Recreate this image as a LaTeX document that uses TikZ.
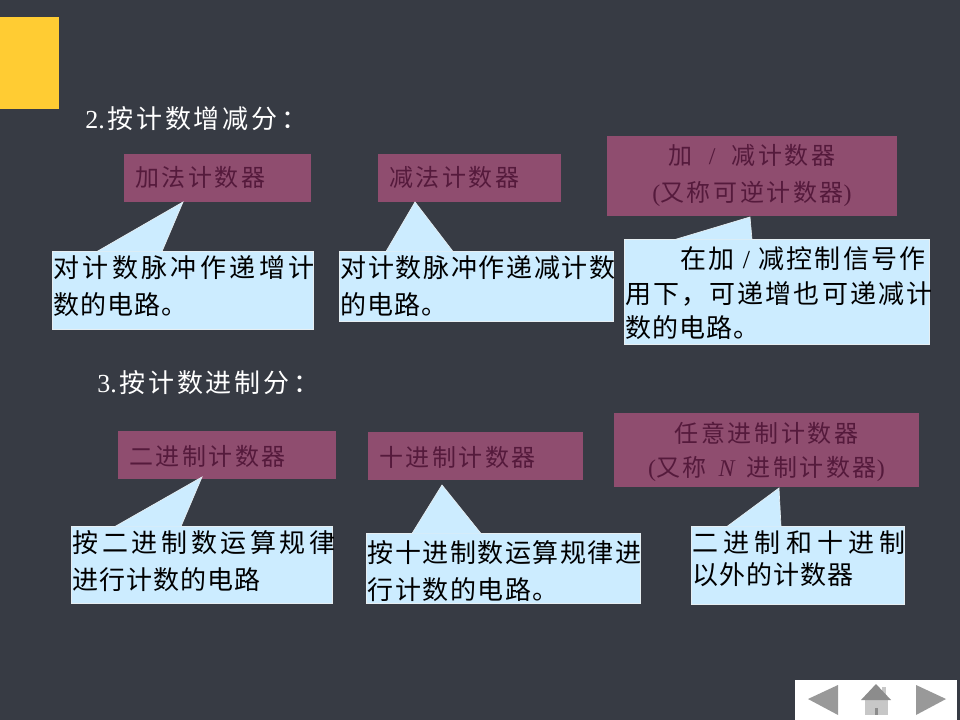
\documentclass[tikz,border=0pt]{standalone}
\usepackage{fontspec}
\setmainfont{Noto Sans CJK SC}
\newfontfamily\lat{Liberation Serif}
\definecolor{bg}{HTML}{373B44}
\definecolor{sun}{HTML}{FFCC33}
\definecolor{plum}{HTML}{8F4D6F}
\definecolor{plumtext}{HTML}{551A3C}
\definecolor{sky}{HTML}{CCECFF}
\definecolor{edge}{HTML}{E6EEF2}
\newcommand{\ls}[2]{{\addfontfeature{LetterSpace=#1}#2}}
\tikzset{
  cell/.style n args={4}{anchor=north west,inner ysep=0pt,outer sep=0pt,
    inner xsep=#3*0.75pt,
    text width=(#1-2*#3)*0.75pt,
    text height=#4*0.75pt,text depth=(#2-#4)*0.75pt},
  plumbox/.style={fill=plum,text=plumtext,align=left,font=\fontsize{18}{27.75}\selectfont},
  skybox/.style={fill=sky,draw=edge,line width=0.5pt,text=black,align=left,font=\fontsize{19.5}{27.75}\selectfont},
  tail/.style={fill=sky,draw=edge,line width=0.5pt,line join=miter},
  heading/.style={anchor=west,inner sep=0pt,text=white,font=\fontsize{19.5}{24}\selectfont},
  navtri/.style={fill=black!40},
}
\begin{document}
\begin{tikzpicture}[x=0.75pt,y=-0.75pt]
\useasboundingbox (0,0) rectangle (960,720);
\fill[bg] (0,0) rectangle (960,720);
\fill[sun] (0,17) rectangle (59,109);

\node[heading] (h2) at (85,119) {{\lat 2.}\hspace{2pt}\ls{11}{按计数增减分}\hspace{3pt}：};
\node[heading] (h3) at (97,383) {{\lat 3.}\hspace{2pt}\ls{11}{按计数进制分}\hspace{3pt}：};

% purple boxes
\node[plumbox,cell={187}{48}{11}{33}] (p1) at (124,154) {\ls{10.5}{加法计数器}};
\node[plumbox,cell={183}{48}{11}{33}] (p2) at (378,154) {\ls{10.5}{减法计数器}};
\node[plumbox,cell={290}{80}{5}{29},align=center] (p3) at (607,136) {\ls{10.5}{加\hspace{12pt}{\lat /}\hspace{12pt}减计数器}\\\ls{10.5}{{\lat (}又称可逆计数器{\lat )}}};
\node[plumbox,cell={218}{48}{11}{34}] (p4) at (118,431) {\ls{10.5}{二进制计数器}};
\node[plumbox,cell={215}{48}{11}{34}] (p5) at (368,432) {\ls{10.5}{十进制计数器}};
\node[plumbox,cell={305}{74}{5}{29},align=center,font=\fontsize{18}{25.5}\selectfont] (p6) at (614,413) {\ls{10.5}{任意进制计数器}\\\ls{10.5}{{\lat (}又称\hspace{9pt}{\lat\itshape N}\hspace{9pt}进制计数器{\lat )}}};

% blue boxes
\node[skybox,cell={261}{78}{1}{26}] (b1) at (52.5,251.5) {\ls{13}{对计数脉冲作递增计}\\\ls{4}{数的电路。}};
\node[skybox,cell={274}{70}{1}{26}] (b2) at (339.5,251.5) {\ls{6.5}{对计数脉冲作递减计数}\\\ls{4}{的电路。}};
\node[skybox,cell={305}{105}{1}{29},font=\fontsize{19.5}{26}\selectfont] (b3) at (624.5,239.5) {\hspace*{41pt}\ls{8}{在加 {\lat /} 减控制信号作}\\\ls{8}{用下，可递增也可递减计}\\\ls{4}{数的电路。}};
\node[skybox,cell={261}{77}{1}{26}] (b4) at (71.5,526.5) {\ls{14}{按二进制数运算规律}\\\ls{4}{进行计数的电路}};
\node[skybox,cell={274}{70}{1}{29}] (b5) at (366.5,533.5) {\ls{6}{按十进制数运算规律进}\\\ls{6}{行计数的电路。}};
\node[skybox,cell={213}{78}{1}{26},font=\fontsize{19.5}{24}\selectfont] (b6) at (691.5,526.5) {\ls{20}{二进制和十进制}\\\ls{4}{以外的计数器}};

% callout tails
\coordinate (t1) at (183,202); \coordinate (t1a) at (97,251.5);  \coordinate (t1b) at (162,251.5);
\coordinate (t2) at (415,202); \coordinate (t2a) at (386,251.5); \coordinate (t2b) at (453,251.5);
\coordinate (t3) at (750,217); \coordinate (t3a) at (675,239.5); \coordinate (t3b) at (752,239.5);
\coordinate (t4) at (202,477); \coordinate (t4a) at (115,526.5); \coordinate (t4b) at (181,526.5);
\coordinate (t5) at (442,485); \coordinate (t5a) at (412,533.5); \coordinate (t5b) at (481,533.5);
\coordinate (t6) at (779,488); \coordinate (t6a) at (727,526.5); \coordinate (t6b) at (781,526.5);
\foreach \i in {1,...,6} \draw[tail] (t\i a) -- (t\i) -- (t\i b);

% navigation bar
\fill[white] (795,680) rectangle (957,720);
\fill[navtri] (808,699) -- (838,685) -- (838,715) -- cycle;
\fill[navtri] (946,699) -- (916,685) -- (916,715) -- cycle;
\fill[black!22] (882,687) rectangle (886,696);
\fill[black!22] (865,700) rectangle (888,715);
\fill[black!45] (861,700) -- (876,684) -- (891,700) -- cycle;
\fill[black!45] (875,708) rectangle (878,715);
\end{tikzpicture}
\end{document}
